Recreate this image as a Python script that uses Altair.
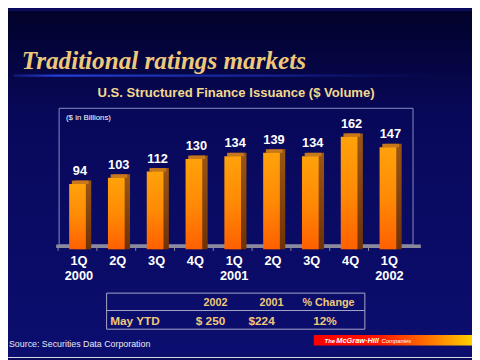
import altair as alt
import pandas as pd

# ---- data ----
categories = ["1Q 2000", "2Q 2000", "3Q 2000", "4Q 2000", "1Q 2001", "2Q 2001", "3Q 2001", "4Q 2001", "1Q 2002"]
values = [94, 103, 112, 130, 134, 139, 134, 162, 147]
quarter_labels = ["1Q", "2Q", "3Q", "4Q", "1Q", "2Q", "3Q", "4Q", "1Q"]
year_labels = ["2000", "", "", "", "2001", "", "", "", "2002"]

table_header = ["2002", "2001", "% Change"]
table_row_label = "May YTD"
table_row = ["$ 250", "$224", "12%"]

title = "Traditional ratings markets"
subtitle = "U.S. Structured Finance Issuance ($ Volume)"
unit_note = "($ in Billions)"
source = "Source:  Securities Data Corporation"

W, H = 472, 352
GOLD = "#efc97a"
PALE_GOLD = "#f3d98e"

df = pd.DataFrame({"cat": categories, "value": values, "q": quarter_labels, "yr": year_labels})
one = pd.DataFrame({"k": [0]})

def grad(stops, vertical=True):
    g = dict(gradient="linear", stops=[alt.GradientStop(color=c, offset=o) for o, c in stops])
    if vertical:
        g.update(x1=0, x2=0, y1=0, y2=1)
    else:
        g.update(x1=0, x2=1, y1=0, y2=0)
    return alt.Gradient(**g)

xscale = alt.Scale(range=[50.96, 406.2], paddingInner=0.57, paddingOuter=0.285)
yscale = alt.Scale(domain=[0, 200], range=[242.4, 101.2])
X = alt.X("cat:N", sort=categories, scale=xscale, axis=None)
Y = alt.Y("value:Q", scale=yscale, axis=None)

base = alt.Chart(df).encode(x=X)
deco = alt.Chart(one)

background = deco.mark_rect(
    fill=grad([(0, "#02022a"), (0.3, "#08085a"), (1, "#0c0e70")])
).encode(x=alt.value(0), x2=alt.value(W), y=alt.value(0), y2=alt.value(H))

glow = deco.mark_rect(
    fill=grad([(0, "rgba(40,70,230,0.3)"), (0.1, "rgba(40,70,230,0.9)"), (0.6, "rgba(30,50,190,0.6)"), (1, "rgba(20,30,150,0)")], vertical=False)
).encode(x=alt.value(6), x2=alt.value(440), y=alt.value(64.5), y2=alt.value(67))

title_t = deco.mark_text(
    text=title, font="Liberation Serif", fontSize=25.6, fontWeight="bold", fontStyle="italic",
    color=GOLD, align="left", baseline="alphabetic"
).encode(x=alt.value(14), y=alt.value(58.7))

subtitle_t = deco.mark_text(
    text=subtitle, font="Liberation Sans", fontSize=13.3, fontWeight="bold",
    color=PALE_GOLD, align="center", baseline="alphabetic"
).encode(x=alt.value(232), y=alt.value(87))

frame = deco.mark_rect(fill="transparent", stroke="#8c8cc0", strokeWidth=1).encode(
    x=alt.value(52), x2=alt.value(412), y=alt.value(99), y2=alt.value(238))

unit_t = deco.mark_text(
    text=unit_note, font="Liberation Sans", fontSize=8, color="white", align="left", baseline="alphabetic"
).encode(x=alt.value(59), y=alt.value(111))

floor = deco.mark_rect(fill="#8a8a9c").encode(
    x=alt.value(49), x2=alt.value(420), y=alt.value(237.5), y2=alt.value(241))

ticks = base.mark_rule(color="#8a8a9c", xOffset=-11.25).encode(
    x=alt.X("cat:N", sort=categories, scale=xscale, axis=None, bandPosition=0),
    y=alt.value(241), y2=alt.value(244))

side = base.mark_bar(
    xOffset=5.5, yOffset=-3.5,
    fill=grad([(0, "#9a5614"), (1, "#6e3206")])
).encode(y=Y, y2=alt.value(240))

top = base.mark_tick(
    thickness=3.5, size=17, xOffset=2.75, yOffset=-1.75, color="#c8781c", opacity=1
).encode(y=Y)

front = base.mark_bar(
    fill=grad([(0, "#ffa20a"), (0.5, "#ff8a05"), (1, "#ff6000")])
).encode(y=Y, y2=alt.value(240))

value_t = base.mark_text(
    font="Liberation Sans", fontSize=13, fontWeight="bold", color="white",
    dx=2.5, dy=-9, baseline="alphabetic"
).encode(y=Y, text="value:Q")

q_t = base.mark_text(
    font="Liberation Sans", fontSize=13, fontWeight="bold", color="white", dx=1.5, baseline="alphabetic"
).encode(y=alt.value(258.7), text="q:N")

yr_t = base.mark_text(
    font="Liberation Sans", fontSize=13, fontWeight="bold", color="white", dx=1.5, baseline="alphabetic"
).encode(y=alt.value(274), text="yr:N")

# table
table_box = deco.mark_rect(fill="transparent", stroke="#a8a8c8", strokeWidth=1).encode(
    x=alt.value(100.3), x2=alt.value(363), y=alt.value(287), y2=alt.value(323.7))
table_line = deco.mark_rule(stroke="#a8a8c8", strokeWidth=1).encode(
    x=alt.value(100.3), x2=alt.value(363), y=alt.value(304.7))

hdr_df = pd.DataFrame({"t": table_header, "x": [211, 268, 326]})
row_df = pd.DataFrame({"t": table_row, "x": [206, 258, 322.5]})
hdr_t = alt.Chart(hdr_df).mark_text(
    font="Liberation Sans", fontSize=11, fontWeight="bold", color=GOLD, baseline="alphabetic"
).encode(x=alt.X("x:Q", scale=None), y=alt.value(300.3), text="t:N")
row_t = alt.Chart(row_df).mark_text(
    font="Liberation Sans", fontSize=12, fontWeight="bold", color=GOLD, baseline="alphabetic"
).encode(x=alt.X("x:Q", scale=None), y=alt.value(319), text="t:N")
row_lbl = deco.mark_text(
    text=table_row_label, font="Liberation Sans", fontSize=12, fontWeight="bold", color=GOLD,
    align="left", baseline="alphabetic"
).encode(x=alt.value(104), y=alt.value(319))

source_t = deco.mark_text(
    text=source, font="Liberation Sans", fontSize=9, color="#e8e8f4", align="left", baseline="alphabetic"
).encode(x=alt.value(1), y=alt.value(341.5))

banner = deco.mark_rect(
    fill=grad([(0, "#ff0000"), (0.4, "#ff1400"), (0.7, "#ff6a00"), (1, "#ffd000")], vertical=False)
).encode(x=alt.value(311), x2=alt.value(W), y=alt.value(329.7), y2=alt.value(340.3))
b1 = deco.mark_text(text="The", font="Liberation Sans", fontSize=6, fontWeight="bold", fontStyle="italic",
                    color="white", align="left", baseline="alphabetic").encode(x=alt.value(322), y=alt.value(337.5))
b2 = deco.mark_text(text="McGraw·Hill", font="Liberation Sans", fontSize=7.5, fontWeight="bold", fontStyle="italic",
                    color="white", align="left", baseline="alphabetic").encode(x=alt.value(334), y=alt.value(337.5))
b3 = deco.mark_text(text="Companies", font="Liberation Sans", fontSize=6, fontWeight="normal", fontStyle="italic",
                    color="white", align="left", baseline="alphabetic").encode(x=alt.value(380), y=alt.value(337.5))

chart = alt.layer(
    background, glow, title_t, subtitle_t, frame, unit_t, floor, ticks,
    side, top, front, value_t, q_t, yr_t,
    table_box, table_line, hdr_t, row_t, row_lbl, source_t, banner, b1, b2, b3
).properties(
    width=W, height=H, autosize="none", padding=0
).configure_view(stroke=None).configure(background="#0a0a5c")

chart.save("out.html", embed_options={"renderer": "svg", "actions": False})
